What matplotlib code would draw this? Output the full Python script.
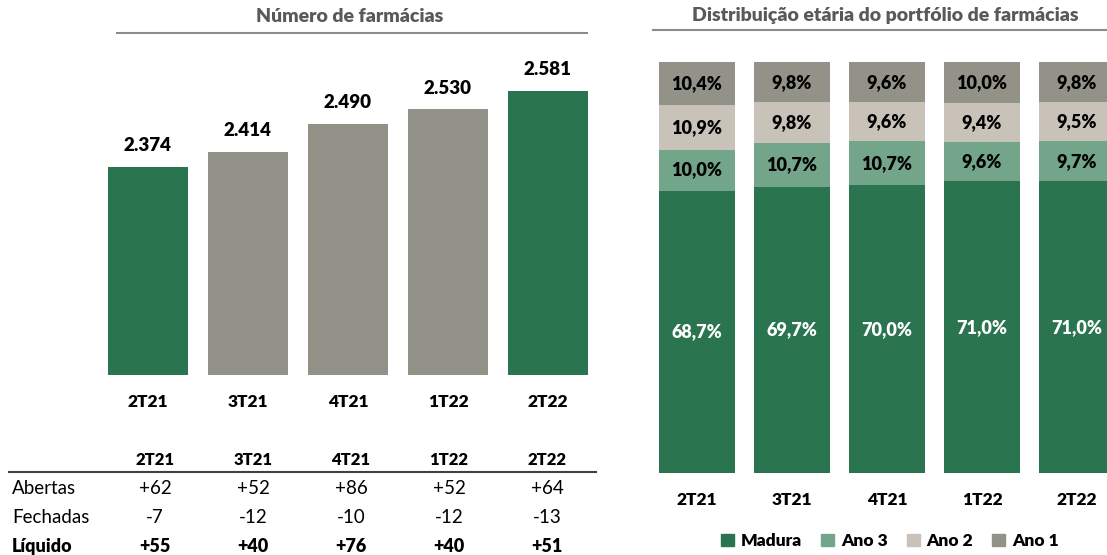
import numpy as np
import matplotlib
matplotlib.use("Agg")
import matplotlib.pyplot as plt
from matplotlib.lines import Line2D
from matplotlib.patches import Patch

plt.rcParams['font.family'] = ['Lato', 'DejaVu Sans']

# data
quarters = ['2T21', '3T21', '4T21', '1T22', '2T22']
n_pharmacies = [2374, 2414, 2490, 2530, 2581]
n_labels = ['2.374', '2.414', '2.490', '2.530', '2.581']

table_rows = ['Abertas', 'Fechadas', 'Líquido']
opened = ['+62', '+52', '+86', '+52', '+64']
closed = ['-7', '-12', '-10', '-12', '-13']
net = ['+55', '+40', '+76', '+40', '+51']

age_series = ['Madura', 'Ano 3', 'Ano 2', 'Ano 1']
madura = [68.7, 69.7, 70.0, 71.0, 71.0]
ano3 = [10.0, 10.7, 10.7, 9.6, 9.7]
ano2 = [10.9, 9.8, 9.6, 9.4, 9.5]
ano1 = [10.4, 9.8, 9.6, 10.0, 9.8]

GREEN = '#2A7550'
GREY = '#929288'
LIGHT_GREEN = '#72A58A'
BEIGE = '#C8C2B8'
TITLE_GREY = '#595959'
BOLD = 'heavy'

W, H = 1107, 555


def px_axes(fig, x0, y0, x1, y1):
    """Axes from pixel box (top-left origin)."""
    return fig.add_axes([x0 / W, 1 - y1 / H, (x1 - x0) / W, (y1 - y0) / H])


def clean(ax):
    for s in ax.spines.values():
        s.set_visible(False)
    ax.tick_params(length=0)
    ax.set_yticks([])


fig = plt.figure(figsize=(W / 100, H / 100), dpi=100)

# ---- left: number of pharmacies
ax1 = px_axes(fig, 98, 40, 598, 375)
x = np.arange(len(quarters))
colors = [GREEN, GREY, GREY, GREY, GREEN]
bars = ax1.bar(x, n_pharmacies, width=0.8, color=colors)
ax1.set_xlim(-0.5, 4.5)
ax1.set_ylim(1806, 1806 + 335 / 0.367)
for b, lab in zip(bars, n_labels):
    ax1.annotate(lab, (b.get_x() + b.get_width() / 2, b.get_height()),
                 xytext=(0, 9), textcoords='offset points', ha='center', va='bottom',
                 fontsize=13.5, fontweight=BOLD)
ax1.set_xticks(x)
ax1.set_xticklabels(quarters, fontsize=12.5, fontweight=BOLD)
ax1.tick_params(axis='x', pad=14)
clean(ax1)

fig.text(350 / W, 1 - 16 / H, 'Número de farmácias', ha='center', va='center',
         fontsize=14, fontweight=BOLD, color=TITLE_GREY)
fig.add_artist(Line2D([117 / W, 587 / W], [1 - 33 / H, 1 - 33 / H], color='#8c8c8c', lw=1.5))

# ---- table under the bars
axt = px_axes(fig, 8, 445.6, 597, 554.7)
axt.set_xlim(-1.5, 4.51)
axt.set_ylim(3.3, -0.5)
axt.axis('off')
for i, q in enumerate(quarters):
    axt.text(i, 0, q, ha='center', va='center', fontsize=12, fontweight=BOLD)
axt.axhline(0.42, color='#404040', lw=1.5)
for r, (name, vals) in enumerate(zip(table_rows, [opened, closed, net]), start=1):
    weight = BOLD if name == 'Líquido' else 'normal'
    size = 13 if name == 'Líquido' else 13.5
    axt.text(-1.46, r, name, ha='left', va='center', fontsize=size, fontweight=weight)
    for i, v in enumerate(vals):
        axt.text(i, r, v, ha='center', va='center', fontsize=size, fontweight=weight)

# ---- right: age distribution
ax2 = px_axes(fig, 649.5, 62, 1107, 473)
ax2.set_xlim(-0.5, (1107 - 697) / 95)
ax2.set_ylim(0, 100)
stack = [madura, ano3, ano2, ano1]
stack_colors = [GREEN, LIGHT_GREEN, BEIGE, GREY]
text_colors = ['white', 'black', 'black', 'black']
bottom = np.zeros(len(quarters))
for name, vals, c, tc in zip(age_series, stack, stack_colors, text_colors):
    vals = np.array(vals)
    ax2.bar(x, vals, width=0.81, bottom=bottom, color=c, label=name)
    for xi, b, v in zip(x, bottom, vals):
        ax2.text(xi, b + v / 2, f'{v:.1f}%'.replace('.', ','), ha='center', va='center',
                 fontsize=13, fontweight=BOLD, color=tc)
    bottom += vals
ax2.set_xticks(x)
ax2.set_xticklabels(quarters, fontsize=12.5, fontweight=BOLD)
ax2.tick_params(axis='x', pad=14)
clean(ax2)

fig.text(885 / W, 1 - 16 / H, 'Distribuição etária do portfólio de farmácias', ha='center',
         va='center', fontsize=14, fontweight=BOLD, color=TITLE_GREY)
fig.add_artist(Line2D([653 / W, 1107 / W], [1 - 30 / H, 1 - 30 / H], color='#8c8c8c', lw=1.5))

handles = [Patch(color=c, label=n) for n, c in zip(age_series, stack_colors)]
leg = fig.legend(handles=handles, loc='center', bbox_to_anchor=(890 / W, 1 - 541 / H),
                 ncol=4, frameon=False, handlelength=0.75, handleheight=0.75,
                 handletextpad=0.4, columnspacing=1.1, prop={'size': 12.5, 'weight': BOLD})

fig.savefig('out.png', dpi=100)
